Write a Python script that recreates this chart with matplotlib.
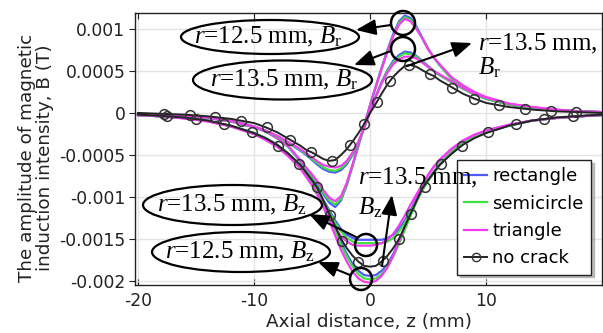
import numpy as np
import matplotlib
matplotlib.use("Agg")
import matplotlib.pyplot as plt
from matplotlib.patches import Ellipse
from matplotlib.lines import Line2D

plt.rcParams['font.family'] = ['DejaVu Sans']
plt.rcParams['mathtext.fontset'] = 'custom'
plt.rcParams['mathtext.rm'] = 'Liberation Serif'
plt.rcParams['mathtext.it'] = 'Liberation Serif:italic'
plt.rcParams['mathtext.bf'] = 'Liberation Serif:bold'

# ---------------- data (B in units of 1e-4 T) ----------------
z = [-20, -18, -16, -14, -12, -10, -9, -8, -7, -6, -5.5, -5, -4.5, -4, -3.5, -3, -2.5, -2, -1.5, -1, -0.5,
     0, 0.5, 1, 1.5, 2, 2.5, 3, 3.5, 4, 4.5, 5, 5.5, 6, 7, 8, 9, 10, 12, 14, 16, 18, 20]

br125_rect = [-0.15, -0.25, -0.4, -0.6, -1.0, -1.7, -2.2, -3.0, -4.1, -5.8, -6.7, -7.6, -8.6, -9.7, -10.7, -11.2, -10.4, -8.6, -6.3, -3.9, -1.5,
              0.9, 3.2, 5.4, 7.5, 9.4, 10.9, 11.6, 11.3, 10.3, 9.0, 7.7, 6.6, 5.7, 4.1, 3.1, 2.3, 1.7, 1.0, 0.6, 0.35, 0.2, 0.1]
br125_semi = [-0.15, -0.25, -0.4, -0.6, -1.0, -1.7, -2.2, -3.0, -4.1, -5.7, -6.6, -7.5, -8.4, -9.5, -10.4, -10.9, -10.2, -8.5, -6.2, -3.9, -1.5,
              0.9, 3.1, 5.3, 7.4, 9.2, 10.7, 11.4, 11.1, 10.1, 8.9, 7.6, 6.6, 5.7, 4.1, 3.1, 2.3, 1.7, 1.0, 0.6, 0.35, 0.2, 0.1]
br125_tri = [-0.15, -0.25, -0.4, -0.6, -1.0, -1.7, -2.2, -3.0, -4.0, -5.6, -6.5, -7.3, -8.2, -9.2, -10.1, -10.5, -9.9, -8.3, -6.1, -3.8, -1.5,
             0.9, 3.1, 5.2, 7.3, 9.1, 10.5, 11.2, 10.9, 10.0, 8.9, 7.6, 6.6, 5.8, 4.3, 3.3, 2.5, 1.9, 1.1, 0.7, 0.4, 0.2, 0.1]

br135_rect = [-0.1, -0.2, -0.35, -0.55, -0.9, -1.6, -2.1, -2.8, -3.6, -4.5, -5.0, -5.6, -6.2, -6.7, -7.0, -7.1, -6.8, -6.1, -5.0, -3.6, -1.8,
              0.1, 2.0, 3.7, 5.1, 6.2, 6.9, 7.3, 7.2, 6.8, 6.2, 5.6, 5.0, 4.5, 3.7, 2.9, 2.2, 1.7, 1.0, 0.6, 0.35, 0.2, 0.1]
br135_semi = [-0.1, -0.2, -0.35, -0.55, -0.9, -1.6, -2.1, -2.8, -3.6, -4.4, -4.9, -5.5, -6.0, -6.5, -6.8, -6.9, -6.6, -5.9, -4.9, -3.5, -1.8,
              0.1, 2.0, 3.6, 5.0, 6.0, 6.7, 7.1, 7.0, 6.7, 6.1, 5.5, 5.0, 4.5, 3.7, 2.9, 2.2, 1.7, 1.0, 0.6, 0.35, 0.2, 0.1]
br135_tri = [-0.1, -0.2, -0.35, -0.55, -0.9, -1.6, -2.1, -2.7, -3.5, -4.3, -4.8, -5.3, -5.8, -6.2, -6.4, -6.5, -6.3, -5.7, -4.7, -3.4, -1.7,
             0.1, 1.9, 3.5, 4.8, 5.8, 6.4, 6.7, 6.7, 6.5, 6.0, 5.5, 5.0, 4.6, 3.8, 3.0, 2.3, 1.8, 1.1, 0.7, 0.4, 0.2, 0.1]

br_nocrack = [0.0, -0.1, -0.2, -0.4, -0.7, -1.2, -1.7, -2.3, -3.1, -3.9, -4.4, -4.7, -5.1, -5.5, -5.7, -5.6, -5.0, -4.3, -3.4, -2.4, -1.3,
              0.0, 1.1, 2.3, 3.4, 4.3, 5.0, 5.6, 5.7, 5.5, 5.1, 4.7, 4.4, 3.9, 3.1, 2.3, 1.7, 1.2, 0.7, 0.4, 0.2, 0.1, 0.0]

bz125_rect = [-0.25, -0.4, -0.6, -0.95, -1.55, -2.4, -3.0, -3.8, -4.9, -6.3, -7.2, -8.2, -9.3, -10.7, -12.2, -13.8, -15.4, -16.8, -18.0, -18.8, -19.3,
              -19.4, -19.3, -18.8, -18.0, -16.8, -15.3, -13.7, -12.1, -10.5, -9.1, -8.0, -7.0, -6.1, -4.7, -3.6, -2.9, -2.3, -1.5, -0.9, -0.6, -0.4, -0.25]
bz125_semi = [-0.25, -0.4, -0.6, -0.95, -1.55, -2.4, -3.0, -3.8, -4.9, -6.3, -7.2, -8.2, -9.3, -10.7, -12.3, -14.0, -15.7, -17.1, -18.3, -19.2, -19.7,
              -19.8, -19.7, -19.2, -18.3, -17.1, -15.6, -13.9, -12.2, -10.6, -9.1, -8.0, -7.0, -6.1, -4.7, -3.6, -2.9, -2.3, -1.5, -0.9, -0.6, -0.4, -0.25]
bz125_tri = [-0.25, -0.4, -0.65, -1.0, -1.6, -2.5, -3.2, -4.0, -5.2, -6.6, -7.6, -8.6, -9.8, -11.3, -12.9, -14.6, -16.3, -17.7, -18.9, -19.7, -20.1,
             -20.2, -20.0, -19.4, -18.4, -17.0, -15.3, -13.5, -11.7, -10.0, -8.6, -7.4, -6.4, -5.6, -4.3, -3.3, -2.6, -2.1, -1.4, -0.9, -0.6, -0.4, -0.25]

bz135_rect = [-0.25, -0.4, -0.6, -0.95, -1.55, -2.4, -3.0, -3.8, -4.9, -6.3, -7.2, -8.1, -9.2, -10.4, -11.6, -12.8, -13.8, -14.5, -14.9, -15.1, -15.1,
              -15.1, -15.1, -15.1, -14.9, -14.5, -13.8, -12.8, -11.6, -10.4, -9.2, -8.1, -7.1, -6.2, -4.8, -3.7, -2.9, -2.3, -1.5, -0.9, -0.6, -0.4, -0.25]
bz135_semi = [-0.25, -0.4, -0.6, -0.95, -1.55, -2.4, -3.0, -3.8, -4.9, -6.3, -7.2, -8.1, -9.2, -10.5, -11.8, -13.1, -14.1, -14.9, -15.3, -15.5, -15.5,
              -15.5, -15.5, -15.5, -15.3, -14.9, -14.1, -13.1, -11.8, -10.5, -9.2, -8.1, -7.1, -6.2, -4.8, -3.7, -2.9, -2.3, -1.5, -0.9, -0.6, -0.4, -0.25]
bz135_tri = [-0.25, -0.4, -0.65, -1.0, -1.6, -2.5, -3.2, -4.0, -5.2, -6.6, -7.6, -8.6, -9.8, -11.1, -12.4, -13.7, -14.7, -15.3, -15.7, -15.8, -15.8,
             -15.8, -15.7, -15.5, -15.1, -14.4, -13.4, -12.2, -10.9, -9.7, -8.5, -7.4, -6.4, -5.6, -4.3, -3.3, -2.6, -2.1, -1.4, -0.9, -0.6, -0.4, -0.25]

bz_nocrack = [-0.2, -0.35, -0.55, -0.9, -1.5, -2.4, -3.0, -3.8, -4.9, -6.2, -7.1, -8.0, -9.0, -10.5, -12.0, -13.5, -15.0, -16.1, -17.0, -17.7, -18.2,
              -18.3, -18.2, -17.7, -17.0, -16.1, -15.0, -13.5, -12.0, -10.5, -9.0, -8.0, -7.1, -6.2, -4.9, -3.8, -3.0, -2.4, -1.5, -0.9, -0.55, -0.35, -0.2]

# marker positions on the "no crack" curves
br_mark_z = [-17.8, -15.5, -13.4, -11.1, -8.9, -6.9, -5.1, -3.3, -1.7, -0.5, 0.6, 1.7, 3.4, 5.2, 7.1, 9.0, 11.1, 13.4, 15.6, 17.8]
br_mark_b = [-0.1, -0.2, -0.5, -0.9, -1.7, -3.2, -4.7, -5.7, -3.8, -1.3, 1.3, 3.8, 5.7, 4.6, 3.0, 1.7, 0.9, 0.5, 0.2, 0.1]
bz_mark_z = [-17.5, -15.0, -12.6, -10.2, -7.9, -6.1, -4.6, -3.45, -2.4, -1.0, 1.1, 2.5, 3.5, 4.7, 6.1, 7.9, 10.2, 12.6, 15.0, 17.5]
bz_mark_b = [-0.4, -0.7, -1.3, -2.3, -3.9, -6.1, -8.8, -12.1, -15.3, -17.7, -17.6, -15.0, -12.0, -8.8, -6.1, -3.9, -2.3, -1.3, -0.7, -0.4]

legend_labels = ['rectangle', 'semicircle', 'triangle', 'no crack']
ytick_vals = [0.001, 0.0005, 0, -0.0005, -0.001, -0.0015, -0.002]
ytick_labels = ['0.001', '0.0005', '0', '-0.0005', '-0.001', '-0.0015', '-0.002']
xtick_vals = [-20, -10, 0, 10]
xtick_labels = ['-20', '-10', '0', '10']

SCALE = 1e-4
c_blue, c_green, c_pink = '#4f5bff', '#3ee03e', '#f23cf2'

W, H = 603, 333
fig = plt.figure(figsize=(W / 100, H / 100), dpi=100)
ax = fig.add_axes([135 / W, 1 - 285 / H, (602 - 135) / W, (285 - 13) / H])

zz = np.array(z)
groups = [(br125_rect, br125_semi, br125_tri), (br135_rect, br135_semi, br135_tri),
          (bz125_rect, bz125_semi, bz125_tri), (bz135_rect, bz135_semi, bz135_tri)]
for g in groups:
    for vals, col in zip(g, (c_blue, c_green, c_pink)):
        ax.plot(zz, np.array(vals) * SCALE, color=col, lw=1.6, zorder=3)

for vals, mz, mb in [(br_nocrack, br_mark_z, br_mark_b), (bz_nocrack, bz_mark_z, bz_mark_b)]:
    ax.plot(zz, np.array(vals) * SCALE, color='#222222', lw=1.4, zorder=4)
    ax.plot(mz, np.array(mb) * SCALE, ls='none', marker='o', ms=7, mfc='none',
            mec='#333333', mew=1.1, zorder=5)

ax.set_xlim(-20.26, 20.0)
ax.set_ylim(-0.002048, 0.00119)
ax.set_xticks(xtick_vals)
ax.set_xticklabels(xtick_labels)
ax.set_yticks(ytick_vals)
ax.set_yticklabels(ytick_labels)
ax.tick_params(axis='x', direction='in', top=True, length=4, pad=5, labelsize=12.3, colors='#222222')
ax.tick_params(axis='y', direction='out', length=4, pad=3, labelsize=12.3, colors='#222222')
ax.grid(True, color='#e4e4e4', lw=1.0, zorder=0)
ax.set_axisbelow(True)
for sp in ax.spines.values():
    sp.set_color('#222222')
    sp.set_linewidth(1.0)

ax.set_xlabel('Axial distance, z (mm)', fontsize=13.2, labelpad=2, color='#222222')
ylab = ax.set_ylabel('The amplitude of magnetic\ninduction intensity, B (T)', fontsize=13.2,
                     color='#222222', linespacing=1.0)
ylab.set_verticalalignment('center')
ax.yaxis.set_label_coords((36 - 135) / 467, 1 - (158 - 13) / 272)

handles = [Line2D([], [], color=c_blue, lw=1.6), Line2D([], [], color=c_green, lw=1.6),
           Line2D([], [], color=c_pink, lw=1.6),
           Line2D([], [], color='#222222', lw=1.4, marker='o', ms=6, mfc='none', mec='#333333')]
leg = ax.legend(handles, legend_labels, loc='upper left',
                bbox_to_anchor=(457 / W, 1 - 160 / H), bbox_transform=fig.transFigure,
                borderaxespad=0, fontsize=13, frameon=True, fancybox=False,
                edgecolor='#222222', framealpha=1, handlelength=1.25, handletextpad=0.3,
                labelspacing=0.52, borderpad=0.4,
                shadow={'ox': 2, 'oy': -2, 'color': '0.6', 'alpha': 0.6})
leg.get_frame().set_linewidth(1.0)
leg.set_zorder(6)


def fx(px):
    return px / W


def fy(py):
    return 1 - py / H


def ellipse(cx, cy, w, h, lw=1.6):
    fig.add_artist(Ellipse((fx(cx), fy(cy)), w / W, h / H, transform=fig.transFigure,
                           fill=False, edgecolor='black', lw=lw, zorder=10))


def arrow(x0, y0, x1, y1):
    fig.add_artist(matplotlib.patches.FancyArrowPatch(
        (fx(x0), fy(y0)), (fx(x1), fy(y1)), transform=fig.transFigure,
        arrowstyle='-|>,head_length=0.8,head_width=0.32', mutation_scale=15,
        color='black', lw=1.5, zorder=11, shrinkA=0, shrinkB=0))


def label(x, y, s, ha='center'):
    fig.text(fx(x), fy(y), s, ha=ha, va='center', fontsize=18, family='Liberation Serif',
             color='black', zorder=12)


# Ellipses with labels
ellipse(270, 37, 178, 34)
label(268, 37, r'$r$=12.5 mm, $B_{\mathrm{r}}$')
ellipse(282.5, 80, 179, 39)
label(284, 80, r'$r$=13.5 mm, $B_{\mathrm{r}}$')
ellipse(232.5, 205, 179, 40)
label(232, 205, r'$r$=13.5 mm, $B_{\mathrm{z}}$')
ellipse(241, 252, 178, 40)
label(240, 252, r'$r$=12.5 mm, $B_{\mathrm{z}}$')

# Circles
for cx, cy, r in [(403, 23, 12), (403, 49, 12), (366, 245, 11), (361, 279, 11)]:
    ellipse(cx, cy, 2 * r, 2 * r, lw=1.8)

# Arrows
arrow(391, 25, 356, 30)
arrow(391, 51, 354, 65)
arrow(407, 66, 472, 43)
arrow(356, 237, 309, 214)
arrow(350, 275, 318, 262)
arrow(382, 266, 392, 195)

# Free labels
label(478, 44, r'$r$=13.5 mm,', ha='left')
label(478, 68, r'$B_{\mathrm{r}}$', ha='left')
label(358, 178, r'$r$=13.5 mm,', ha='left')
label(358, 208, r'$B_{\mathrm{z}}$', ha='left')

fig.savefig('out.png', dpi=100)
